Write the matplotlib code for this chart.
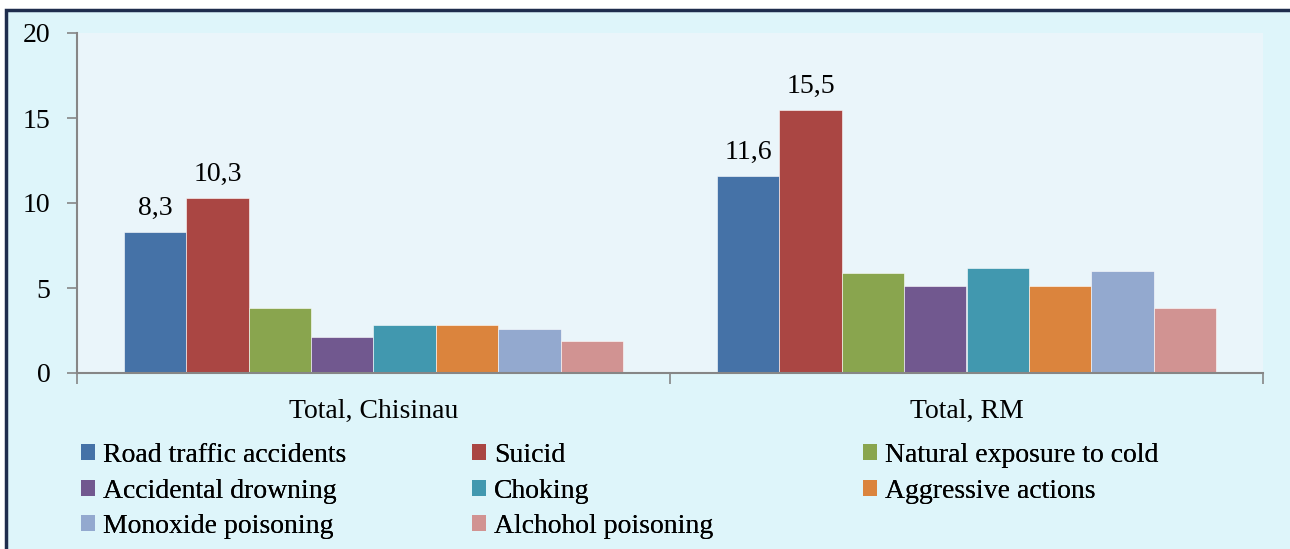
import numpy as np
import matplotlib.pyplot as plt
from matplotlib.patches import Patch, Rectangle

plt.rcParams['font.family'] = ['Liberation Serif', 'DejaVu Serif']

groups = ['Total, Chisinau', 'Total, RM']
causes = ['Road traffic accidents', 'Suicid', 'Natural exposure to cold',
          'Accidental drowning', 'Choking', 'Aggressive actions',
          'Monoxide poisoning', 'Alchohol poisoning']
chisinau = [8.3, 10.3, 3.8, 2.1, 2.8, 2.8, 2.6, 1.9]
rm = [11.6, 15.5, 5.9, 5.1, 6.2, 5.1, 6.0, 3.8]
colors = ['#4572A7', '#AA4643', '#89A54E', '#71588F',
          '#4198AF', '#DB843D', '#93A9CF', '#D19392']
# only the first two series carry data labels
labelled = [0, 1]
fs = 20

W, H = 1290, 549
fig = plt.figure(figsize=(W/100, H/100), dpi=100)
fig.patch.set_facecolor('white')
# outer chart area with the dark border on top/left
fig.patches.append(Rectangle((6/W, -0.05), 1.1, 1-10/H + 0.05, transform=fig.transFigure,
                             facecolor='#DEF5FA', edgecolor='#1F2D4D', linewidth=2.5, zorder=-1))

ax = fig.add_axes([77/W, 1-373/H, (1263-77)/W, (373-33)/H])
ax.set_facecolor('#EAF5FA')

vals = np.array([chisinau, rm])
n = len(causes)
bw = 0.8421 / n
x = np.arange(len(groups))
for i in range(n):
    pos = x - 0.8421/2 + bw*(i+0.5)
    ax.bar(pos, vals[:, i], width=bw, color=colors[i], edgecolor='white', linewidth=0.4,
           label=causes[i])
    if i in labelled:
        for p, v in zip(pos, vals[:, i]):
            ax.text(p, v + 0.65, str(v).replace('.', ','), ha='center', va='bottom', fontsize=fs)

ax.set_xlim(-0.5, 1.5)
ax.set_ylim(0, 20)
ax.set_yticks([0, 5, 10, 15, 20])
ax.tick_params(axis='y', labelsize=fs, length=7, width=1.2, color='#868686', pad=12)
ax.set_xticks([-0.5, 0.5, 1.5])
ax.set_xticklabels([])
ax.set_xticks(x, minor=True)
ax.set_xticklabels(groups, minor=True, fontsize=fs)
ax.tick_params(axis='x', which='major', length=8, width=1.2, color='#868686')
ax.tick_params(axis='x', which='minor', length=0, pad=19)
for s in ['top', 'right']:
    ax.spines[s].set_visible(False)
for s in ['left', 'bottom']:
    ax.spines[s].set_color('#868686')
    ax.spines[s].set_linewidth(1.5)

# legend in three columns, row-major order like the original
handles = [Patch(facecolor=c) for c in colors]
col_x = [81, 472, 863]
for k, cx in enumerate(col_x):
    idx = [j for j in range(n) if j % 3 == k]
    leg = fig.legend([handles[j] for j in idx], [causes[j] for j in idx],
                     loc='upper left', bbox_to_anchor=(cx/W, 1-443/H), frameon=False,
                     fontsize=fs, handlelength=0.5, handleheight=0.5, handletextpad=0.3,
                     labelspacing=0.38, borderaxespad=0, borderpad=0)
    fig.add_artist(leg)

plt.savefig('out.png', dpi=100, facecolor=fig.get_facecolor())
